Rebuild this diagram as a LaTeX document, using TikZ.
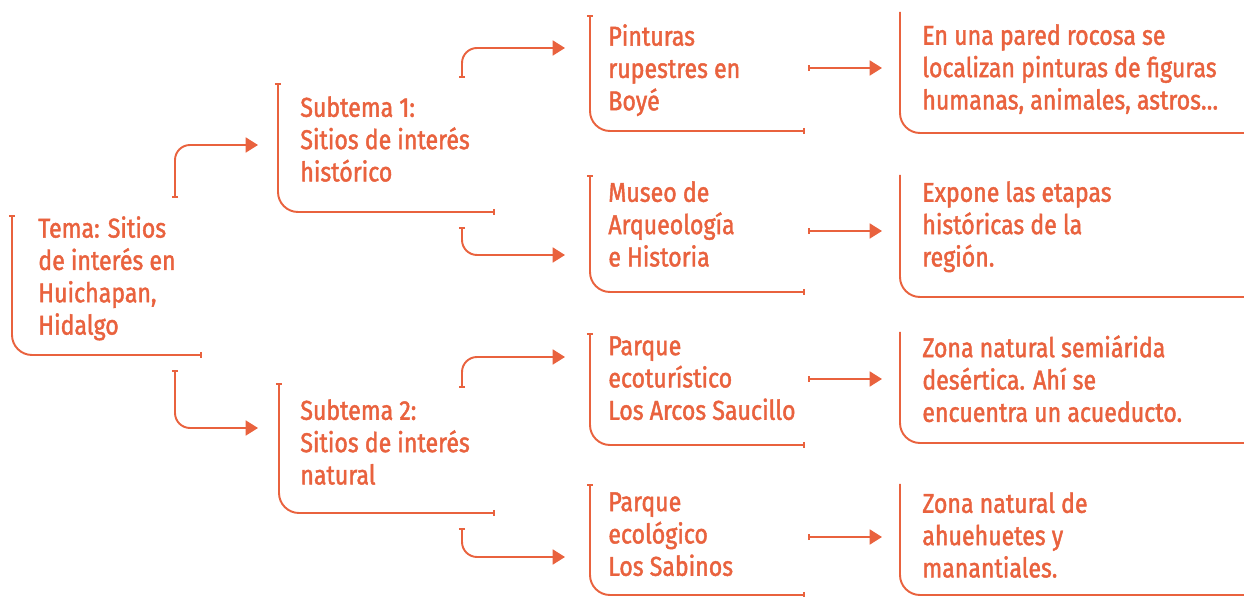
\documentclass[tikz,border=0pt]{standalone}
\usepackage{fontspec}
\setmainfont{Fira Sans}[FakeStretch=0.85, FakeBold=1.6]
\usetikzlibrary{arrows.meta}
\definecolor{naranja}{RGB}{233,98,62}

\tikzset{
  texto/.style={anchor=north west, inner sep=0pt, align=left, text=naranja,
    font=\fontsize{15.5}{18.4}\selectfont},
  marco/.style={draw=naranja, line width=1.1pt, rounded corners=0.4cm,
    {Bar[width=3.5pt]}-{Bar[width=3.5pt]}},
  flecha/.style={draw=naranja, line width=1.1pt, rounded corners=0.3cm,
    {Bar[width=3.5pt]}-{Triangle[length=7pt,width=8.5pt]}}
}

\begin{document}
\begin{tikzpicture}[x=0.02cm, y=-0.02cm]
\useasboundingbox (0,0) rectangle (1244,597);

% tema
\node[texto] (tema) at (38,216) {Tema: Sitios\\de interés en\\Huichapan,\\Hidalgo};
\draw[marco] (12,215) |- (202,355);

% subtemas
\node[texto] (sub1) at (300,96) {Subtema 1:\\Sitios de interés\\histórico};
\draw[marco] (278,83) |- (495,212);
\node[texto] (sub2) at (300,399) {Subtema 2:\\Sitios de interés\\natural};
\draw[marco] (279,383) |- (495,513);

% sitios
\node[texto] (pint) at (608,24) {Pinturas\\rupestres en\\Boyé};
\draw[marco] (590,15) |- (805,131);
\node[texto] (museo) at (608,181) {Museo de\\Arqueología\\e Historia};
\draw[marco] (590,175) |- (805,292);
\node[texto] (arcos) at (608,336) {Parque\\ecoturístico\\Los Arcos Saucillo};
\draw[marco] (590,333) |- (805,445);
\node[texto] (sabinos) at (608,492) {Parque\\ecológico\\Los Sabinos};
\draw[marco] (590,484) |- (805,595);

% descripciones
\node[texto] (pared) at (922,24) {En una pared rocosa se\\localizan pinturas de figuras\\humanas, animales, astros…};
\draw[marco, -] (900,12) |- (1244,133);
\node[texto] (etapas) at (922,181) {Expone las etapas\\históricas de la\\región.};
\draw[marco, -] (900,175) |- (1244,297);
\node[texto] (semi) at (922,335) {Zona natural semiárida\\desértica. Ahí se\\encuentra un acueducto.};
\draw[marco, -] (900,332) |- (1244,443);
\node[texto] (ahue) at (922,492) {Zona natural de\\ahuehuetes y\\manantiales.};
\draw[marco, -] (900,484) |- (1244,595);

% puntos de las flechas
\coordinate (tema-a) at (175,198);  \coordinate (sub1-in) at (258,145);
\coordinate (tema-b) at (175,370);  \coordinate (sub2-in) at (258,428);
\coordinate (sub1-a) at (462,78);   \coordinate (pint-in) at (565,48);
\coordinate (sub1-b) at (462,227);  \coordinate (museo-in) at (565,255);
\coordinate (sub2-a) at (462,388);  \coordinate (arcos-in) at (565,357);
\coordinate (sub2-b) at (462,528);  \coordinate (sabinos-in) at (565,557);
\coordinate (pint-out) at (808,68);    \coordinate (pared-in) at (882,68);
\coordinate (museo-out) at (808,231);  \coordinate (etapas-in) at (882,231);
\coordinate (arcos-out) at (808,379);  \coordinate (semi-in) at (882,379);
\coordinate (sabinos-out) at (808,537); \coordinate (ahue-in) at (882,537);

% flechas
\draw[flecha] (tema-a) |- (sub1-in);
\draw[flecha] (tema-b) |- (sub2-in);
\draw[flecha] (sub1-a) |- (pint-in);
\draw[flecha] (sub1-b) |- (museo-in);
\draw[flecha] (sub2-a) |- (arcos-in);
\draw[flecha] (sub2-b) |- (sabinos-in);
\draw[flecha] (pint-out) -- (pared-in);
\draw[flecha] (museo-out) -- (etapas-in);
\draw[flecha] (arcos-out) -- (semi-in);
\draw[flecha] (sabinos-out) -- (ahue-in);

\end{tikzpicture}
\end{document}
